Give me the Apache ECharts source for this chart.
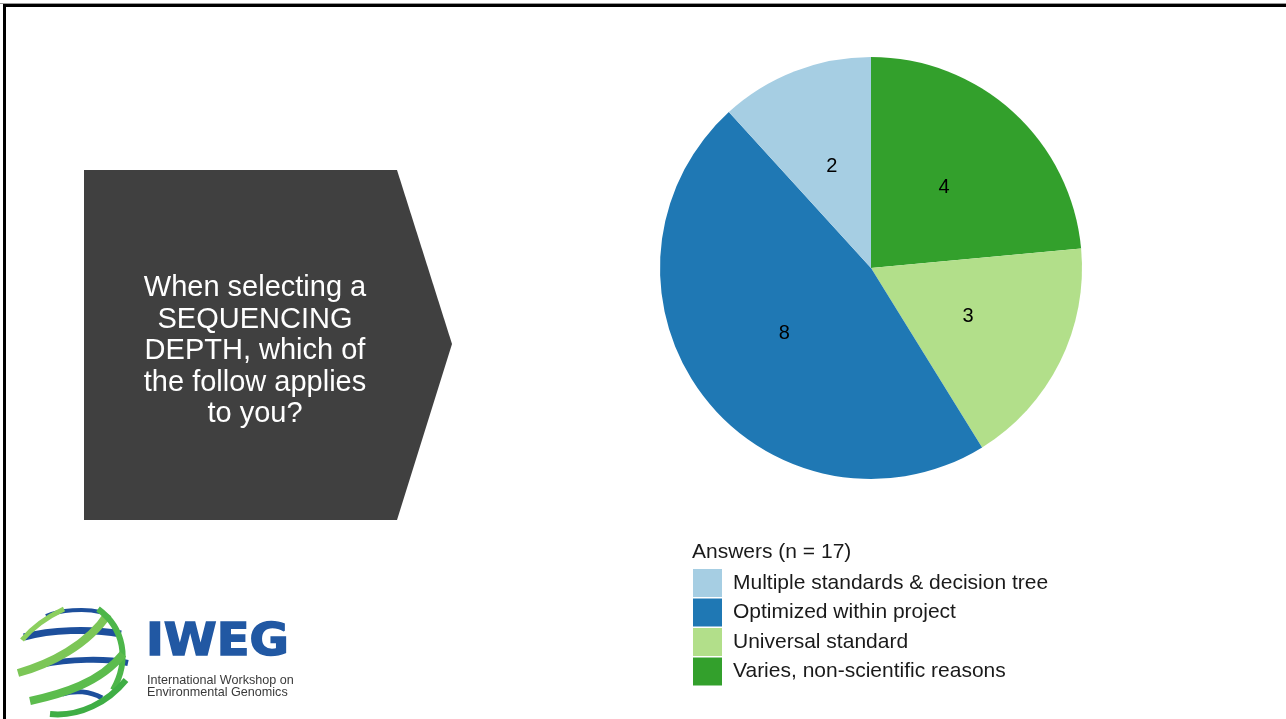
<!DOCTYPE html>
<html>
<head>
<meta charset="utf-8">
<title>Sequencing depth survey</title>
<script src="https://cdn.jsdelivr.net/npm/echarts@6/dist/echarts.min.js"></script>
<style>
  html, body { margin: 0; padding: 0; background: #ffffff; }
  #chart { width: 1286px; height: 719px; }
</style>
</head>
<body>
<div id="chart"></div>
<script>
// Survey answers, in the order the slices run clockwise from 12 o'clock
const answerNames = [
  'Varies, non-scientific reasons',
  'Universal standard',
  'Optimized within project',
  'Multiple standards & decision tree'
];
const answerCounts = [4, 3, 8, 2];
const answerColors = ['#33a02c', '#b2df8a', '#1f78b4', '#a6cee3'];

// Legend lists the answers alphabetically
const legendOrder = [
  'Multiple standards & decision tree',
  'Optimized within project',
  'Universal standard',
  'Varies, non-scientific reasons'
];

const questionLines = [
  'When selecting a',
  'SEQUENCING',
  'DEPTH, which of',
  'the follow applies',
  'to you?'
];

const FONT = '"Liberation Sans", Arial, sans-serif';
const total = answerCounts.reduce((a, b) => a + b, 0);

const pieData = answerNames.map((name, i) => ({
  name: name,
  value: answerCounts[i],
  itemStyle: { color: answerColors[i] }
}));

// Workshop logo: ribbon globe drawn as stroked curves
function ribbon(x1, y1, cx1, cy1, cx2, cy2, x2, y2, color, width) {
  return {
    type: 'bezierCurve',
    shape: { x1: x1, y1: y1, cpx1: cx1, cpy1: cy1, cpx2: cx2, cpy2: cy2, x2: x2, y2: y2 },
    style: { stroke: color, lineWidth: width, fill: null, lineCap: 'butt' },
    silent: true
  };
}

const logoRibbons = [
  ribbon(46, 616, 60, 610, 85, 608, 100, 612, '#1d4f9c', 4),
  ribbon(24, 637, 50, 630, 90, 628, 121, 634, '#1d4f9c', 7),
  ribbon(40, 665, 70, 659, 105, 658, 128, 663, '#1d4f9c', 6),
  ribbon(62, 694, 75, 690, 90, 691, 102, 698, '#1d4f9c', 5),
  ribbon(22, 640, 32, 628, 45, 618, 64, 609, '#8ccf5e', 5),
  ribbon(18, 673, 50, 664, 88, 645, 108, 614, '#7cc657', 8),
  ribbon(98, 609, 124, 628, 130, 660, 113, 690, '#4db64a', 6),
  ribbon(30, 701, 62, 694, 100, 683, 123, 654, '#5cbc4d', 8),
  ribbon(50, 714, 80, 717, 108, 702, 126, 680, '#3fae45', 6)
];

const chart = echarts.init(document.getElementById('chart'), null, { renderer: 'canvas' });

chart.setOption({
  backgroundColor: '#ffffff',
  animation: false,
  title: {
    text: 'Answers (n = ' + total + ')',
    left: 692,
    top: 542,
    padding: 0,
    textStyle: { fontFamily: FONT, fontSize: 21, fontWeight: 'normal', color: '#1a1a1a' }
  },
  legend: {
    data: legendOrder,
    orient: 'vertical',
    left: 693,
    top: 569,
    padding: 0,
    itemWidth: 29,
    itemHeight: 28,
    itemGap: 1.5,
    icon: 'rect',
    selectedMode: false,
    textStyle: { fontFamily: FONT, fontSize: 21, color: '#1a1a1a', padding: [6, 0, 0, 6] }
  },
  series: [{
    type: 'pie',
    center: [871, 268],
    radius: [0, 211],
    startAngle: 90,
    clockwise: true,
    avoidLabelOverlap: false,
    silent: true,
    data: pieData,
    itemStyle: { borderWidth: 0 },
    label: {
      show: true,
      position: 'inner',
      formatter: '{c}',
      fontFamily: FONT,
      fontSize: 20,
      color: '#000000'
    },
    labelLine: { show: false }
  }],
  graphic: [
    // slide frame
    { type: 'rect', shape: { x: 0, y: 3, width: 1286, height: 1 }, style: { fill: '#9a9a9a' }, silent: true },
    { type: 'rect', shape: { x: 3, y: 4, width: 1283, height: 3 }, style: { fill: '#000000' }, silent: true },
    { type: 'rect', shape: { x: 3, y: 4, width: 3, height: 715 }, style: { fill: '#000000' }, silent: true },
    // question panel
    {
      type: 'polygon',
      shape: { points: [[84, 170], [397, 170], [452, 344], [397, 520], [84, 520]] },
      style: { fill: '#404040' },
      silent: true
    },
    {
      type: 'text',
      x: 255,
      y: 351,
      style: {
        text: questionLines.join('\n'),
        fill: '#ffffff',
        font: '29px ' + FONT,
        lineHeight: 31.5,
        align: 'center',
        verticalAlign: 'middle'
      },
      silent: true
    },
    // logo
    { type: 'group', children: logoRibbons, silent: true },
    {
      type: 'text',
      x: 146,
      y: 644,
      scaleX: 1.09,
      style: {
        text: 'IWEG',
        fill: '#2158a3',
        stroke: '#2158a3',
        lineWidth: 1.5,
        font: 'bold 44px "DejaVu Sans", sans-serif',
        verticalAlign: 'middle',
        align: 'left'
      },
      silent: true
    },
    {
      type: 'text',
      x: 147,
      y: 681,
      style: { text: 'International Workshop on', fill: '#3a3a3a', font: '12.6px ' + FONT, verticalAlign: 'middle' },
      silent: true
    },
    {
      type: 'text',
      x: 147,
      y: 693,
      style: { text: 'Environmental Genomics', fill: '#3a3a3a', font: '12.6px ' + FONT, verticalAlign: 'middle' },
      silent: true
    }
  ]
});
</script>
</body>
</html>
